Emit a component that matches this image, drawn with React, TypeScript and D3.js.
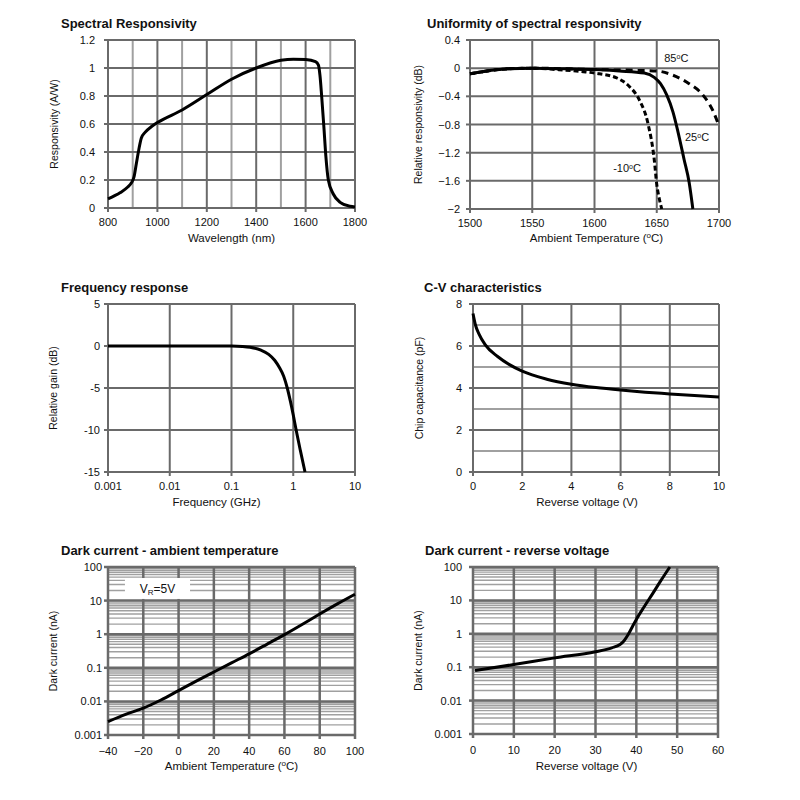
import React from 'react';
import * as d3 from 'd3';

// --- Spectral responsivity ---
const srWavelength = [800, 850, 880, 895, 905, 915, 925, 935, 950, 975, 1000, 1100, 1200, 1300, 1400, 1500, 1550, 1600, 1640, 1652, 1658, 1665, 1674, 1682, 1692, 1712, 1740, 1780, 1800];
const srResp = [0.065, 0.11, 0.15, 0.18, 0.22, 0.32, 0.42, 0.5, 0.54, 0.58, 0.61, 0.7, 0.81, 0.92, 1.0, 1.055, 1.063, 1.06, 1.045, 1.02, 0.95, 0.8, 0.58, 0.37, 0.2, 0.1, 0.04, 0.012, 0.008];
const srXTicks = [800, 1000, 1200, 1400, 1600, 1800];
const srXMinor = [900, 1100, 1300, 1500, 1700];
const srYTicks = [0, 0.2, 0.4, 0.6, 0.8, 1, 1.2];

// --- Uniformity of spectral responsivity ---
const uWl25 = [1500, 1510, 1530, 1550, 1580, 1600, 1620, 1640, 1648, 1653, 1658, 1663, 1667, 1672, 1676, 1679];
const uR25 = [-0.08, -0.05, -0.01, 0, -0.01, -0.02, -0.04, -0.07, -0.13, -0.22, -0.38, -0.62, -0.9, -1.3, -1.62, -2];
const uWlM10 = [1500, 1530, 1550, 1570, 1591, 1604, 1618, 1628, 1636, 1643, 1648, 1650, 1652, 1654];
const uRM10 = [-0.08, -0.01, 0, -0.02, -0.05, -0.08, -0.14, -0.26, -0.45, -0.79, -1.3, -1.65, -1.85, -2];
const uWl85 = [1500, 1530, 1550, 1600, 1631, 1650, 1663, 1676, 1687, 1695, 1700];
const uR85 = [-0.08, -0.01, 0, -0.02, -0.03, -0.04, -0.1, -0.22, -0.38, -0.6, -0.82];
const uXTicks = [1500, 1550, 1600, 1650, 1700];
const uYTicks = [-2, -1.6, -1.2, -0.8, -0.4, 0, 0.4];
const uLabels = [
  { x: 1656, y: 0.09, t: '85' },
  { x: 1672.7, y: -1.03, t: '25' },
  { x: 1615, y: -1.48, t: '-10' },
];

// --- Frequency response ---
const frFreq = [0.001, 0.01, 0.1, 0.15, 0.2, 0.3, 0.4, 0.5, 0.6, 0.7, 0.8, 0.9, 1.0, 1.1, 1.3, 1.55];
const frGain = [0, 0, 0, -0.05, -0.15, -0.5, -1.0, -1.7, -2.6, -3.6, -5.0, -6.6, -8.2, -9.8, -12.4, -15];
const frXTicks = [0.001, 0.01, 0.1, 1, 10];
const frYTicks = [-15, -10, -5, 0, 5];

// --- C-V characteristics ---
const cvVolt = [0, 0.1, 0.25, 0.5, 1, 1.5, 2, 3, 4, 5, 6, 7, 8, 9, 10];
const cvCap = [7.55, 7.0, 6.55, 6.05, 5.5, 5.1, 4.8, 4.42, 4.18, 4.02, 3.9, 3.8, 3.72, 3.64, 3.57];
const cvXTicks = [0, 2, 4, 6, 8, 10];
const cvYTicks = [0, 2, 4, 6, 8];
const cvYMinor = [1, 3, 5, 7];

// --- Dark current vs ambient temperature ---
const dtTemp = [-40, -30, -20, -10, 0, 10, 20, 30, 40, 50, 60, 70, 80, 90, 100];
const dtCurrent = [0.0025, 0.0041, 0.0063, 0.011, 0.021, 0.04, 0.075, 0.14, 0.26, 0.5, 0.97, 1.95, 4.0, 8.0, 15.5];
const dtXTicks = [-40, -20, 0, 20, 40, 60, 80, 100];

// --- Dark current vs reverse voltage ---
const dvVolt = [0.5, 10, 20, 30, 34, 36, 37, 38, 39, 40, 42, 44, 46, 48.2];
const dvCurrent = [0.08, 0.12, 0.19, 0.29, 0.38, 0.48, 0.62, 0.95, 1.6, 2.7, 6.7, 16, 39, 100];
const dvXTicks = [0, 10, 20, 30, 40, 50, 60];

const logYTicks = [0.001, 0.01, 0.1, 1, 10, 100];
const logMinor = d3.range(-3, 2).flatMap(e => d3.range(2, 10).map(m => m * Math.pow(10, e)));

const FONT = '"Liberation Sans", Arial, sans-serif';
const MAJOR = '#6a6a6a';
const MINOR = '#a0a0a0';

type Series = { xs: number[]; ys: number[]; dash?: string };

interface PanelProps {
  title: string;
  titleX: number;
  titleY: number;
  left: number;
  top: number;
  width: number;
  height: number;
  x: any;
  y: any;
  xTicks: number[];
  xMinor?: number[];
  yTicks: number[];
  yMinor?: number[];
  xFmt: (v: number) => string;
  yFmt: (v: number) => string;
  xLabel: React.ReactNode;
  yLabel: string;
  xLabelDx?: number;
  xTickDy: number;
  xTitleDy: number;
  yTickGap: number;
  yTitleDx: number;
  series: Series[];
  majorWidth?: number;
  children?: React.ReactNode;
}

function Panel(p: PanelProps) {
  const { left, top, width, height, x, y } = p;
  const bottom = top + height;
  const right = left + width;
  const line = d3.line<[number, number]>()
    .x(d => x(d[0]))
    .y(d => y(d[1]))
    .curve(d3.curveMonotoneX);
  const mw = p.majorWidth ?? 2;
  return (
    <g fontFamily={FONT}>
      <text x={p.titleX} y={p.titleY} fontSize={13} fontWeight="bold" fill="#111">{p.title}</text>
      <rect x={left} y={top} width={width} height={height} fill="#fff" />
      {/* minor grid */}
      {(p.xMinor || []).map((v, i) => (
        <line key={'xm' + i} x1={x(v)} x2={x(v)} y1={top} y2={bottom} stroke={MINOR} strokeWidth={2} />
      ))}
      {(p.yMinor || []).map((v, i) => (
        <line key={'ym' + i} x1={left} x2={right} y1={y(v)} y2={y(v)} stroke={MINOR} strokeWidth={p.majorWidth ? 1.4 : 2} />
      ))}
      {/* major grid */}
      {p.xTicks.map((v, i) => (
        <line key={'xg' + i} x1={x(v)} x2={x(v)} y1={top} y2={bottom} stroke={MAJOR} strokeWidth={mw} />
      ))}
      {p.yTicks.map((v, i) => (
        <line key={'yg' + i} x1={left} x2={right} y1={y(v)} y2={y(v)} stroke={MAJOR} strokeWidth={mw} />
      ))}
      {/* axis ticks */}
      {p.yTicks.map((v, i) => (
        <line key={'yt' + i} x1={left - 4} x2={left} y1={y(v)} y2={y(v)} stroke={MAJOR} strokeWidth={mw} />
      ))}
      {p.xTicks.map((v, i) => (
        <line key={'xt' + i} x1={x(v)} x2={x(v)} y1={bottom} y2={bottom + 4} stroke={MAJOR} strokeWidth={mw} />
      ))}
      {p.children}
      {/* tick labels */}
      {p.yTicks.map((v, i) => (
        <text key={'yl' + i} x={left - p.yTickGap} y={y(v) + 4} fontSize={11} textAnchor="end" fill="#111">{p.yFmt(v)}</text>
      ))}
      {p.xTicks.map((v, i) => (
        <text key={'xl' + i} x={x(v)} y={bottom + p.xTickDy} fontSize={11} textAnchor="middle" fill="#111">{p.xFmt(v)}</text>
      ))}
      <text x={(left + right) / 2 + (p.xLabelDx || 0)} y={bottom + p.xTitleDy} fontSize={11.5} textAnchor="middle" fill="#111">{p.xLabel}</text>
      <text transform={`translate(${left - p.yTitleDx},${(top + bottom) / 2}) rotate(-90)`} fontSize={10.5} textAnchor="middle" fill="#111">{p.yLabel}</text>
      {/* series */}
      {p.series.map((s, i) => (
        <path key={'s' + i} d={line(s.xs.map((v, j) => [v, s.ys[j]] as [number, number])) || ''} fill="none" stroke="#000" strokeWidth={3} strokeDasharray={s.dash} strokeLinejoin="round" />
      ))}
    </g>
  );
}

const degC = (
  <>
    <tspan>(</tspan>
    <tspan fontSize={8} dy={-4}>o</tspan>
    <tspan dy={4}>C)</tspan>
  </>
);

export default function App() {
  const fmtPlain = (v: number) => String(+v.toFixed(3));
  const fmt2 = (v: number) => (v === 0 ? '0' : d3.format('.1f')(v).replace(/\.0$/, ''));

  // Panel 1
  const x1 = d3.scaleLinear().domain([800, 1800]).range([108, 355]);
  const y1 = d3.scaleLinear().domain([0, 1.2]).range([208, 40]);
  // Panel 2
  const x2 = d3.scaleLinear().domain([1500, 1700]).range([470, 719]);
  const y2 = d3.scaleLinear().domain([-2, 0.4]).range([209, 40]);
  // Panel 3
  const x3 = d3.scaleLog().domain([0.001, 10]).range([108, 355]);
  const y3 = d3.scaleLinear().domain([-15, 5]).range([472, 304]);
  // Panel 4
  const x4 = d3.scaleLinear().domain([0, 10]).range([473, 719]);
  const y4 = d3.scaleLinear().domain([0, 8]).range([472, 304]);
  // Panel 5
  const x5 = d3.scaleLinear().domain([-40, 100]).range([108, 355]);
  const y5 = d3.scaleLog().domain([0.001, 100]).range([735, 567]);
  // Panel 6
  const x6 = d3.scaleLinear().domain([0, 60]).range([473, 718]);
  const y6 = d3.scaleLog().domain([0.001, 100]).range([734, 567]);

  // V_R box in data coordinates
  const boxX0 = -30.4, boxX1 = 6.5, boxY0 = 47, boxY1 = 11.2;

  return (
    <svg width={800} height={800} style={{ position: 'absolute', left: 0, top: 0, background: '#fff' }}>
      <rect width={800} height={800} fill="#fff" />
      <Panel
        title="Spectral Responsivity" titleX={61} titleY={28}
        left={108} top={40} width={247} height={168} x={x1} y={y1}
        xTicks={srXTicks} xMinor={srXMinor} yTicks={srYTicks}
        xFmt={fmtPlain} yFmt={fmt2}
        xLabel="Wavelength  (nm)" yLabel="Responsivity (A/W)"
        xTickDy={18} xTitleDy={34} yTickGap={13} yTitleDx={50}
        series={[{ xs: srWavelength, ys: srResp }]}
      />
      <Panel
        title="Uniformity of spectral  responsivity" titleX={427} titleY={28}
        left={470} top={40} width={249} height={169} x={x2} y={y2}
        xTicks={uXTicks} yTicks={uYTicks}
        xFmt={fmtPlain} yFmt={fmt2}
        xLabel={<><tspan>Ambient Temperature  </tspan>{degC}</>} yLabel="Relative responsivity  (dB)"
        xLabelDx={2}
        xTickDy={18} xTitleDy={33} yTickGap={10} yTitleDx={48}
        series={[
          { xs: uWl85, ys: uR85, dash: '7,5' },
          { xs: uWlM10, ys: uRM10, dash: '5,3' },
          { xs: uWl25, ys: uR25 },
        ]}
      >
        {uLabels.map((l, i) => (
          <text key={i} x={x2(l.x)} y={y2(l.y)} fontSize={11} fill="#111">
            <tspan>{l.t}</tspan>
            <tspan fontSize={7} dy={-3}>o</tspan>
            <tspan dy={3}>C</tspan>
          </text>
        ))}
      </Panel>
      <Panel
        title="Frequency response" titleX={61} titleY={292}
        left={108} top={304} width={247} height={168} x={x3} y={y3}
        xTicks={frXTicks} yTicks={frYTicks}
        xFmt={fmtPlain} yFmt={fmtPlain}
        xLabel="Frequency  (GHz)" yLabel="Relative gain  (dB)"
        xLabelDx={-15}
        xTickDy={18} xTitleDy={34} yTickGap={8} yTitleDx={51}
        series={[{ xs: frFreq, ys: frGain }]}
      />
      <Panel
        title="C-V characteristics" titleX={424} titleY={292}
        left={473} top={304} width={246} height={168} x={x4} y={y4}
        xTicks={cvXTicks} yTicks={cvYTicks} yMinor={cvYMinor}
        xFmt={fmtPlain} yFmt={fmtPlain}
        xLabel="Reverse voltage  (V)" yLabel="Chip capacitance (pF)"
        xLabelDx={-9}
        xTickDy={18} xTitleDy={34} yTickGap={11} yTitleDx={50}
        series={[{ xs: cvVolt, ys: cvCap }]}
      />
      <Panel
        title="Dark current  - ambient temperature" titleX={61} titleY={555}
        left={108} top={567} width={247} height={168} x={x5} y={y5}
        xTicks={dtXTicks} yTicks={logYTicks} yMinor={logMinor}
        xFmt={(v) => (v < 0 ? '\u2212' + Math.abs(v) : String(v))} yFmt={fmtPlain}
        xLabel={<><tspan>Ambient Temperature  </tspan>{degC}</>} yLabel="Dark current  (nA)"
        xTickDy={20} xTitleDy={35} yTickGap={6} yTitleDx={51}
        majorWidth={2.5}
        series={[{ xs: dtTemp, ys: dtCurrent }]}
      >
        <rect x={x5(boxX0)} y={y5(boxY0)} width={x5(boxX1) - x5(boxX0)} height={y5(boxY1) - y5(boxY0)} fill="#fff" />
        <text x={(x5(boxX0) + x5(boxX1)) / 2} y={y5(boxY1) - 6} fontSize={12} textAnchor="middle" fill="#111" fontFamily={FONT}>
          <tspan>V</tspan>
          <tspan fontSize={8} dy={2}>R</tspan>
          <tspan dy={-2}>=5V</tspan>
        </text>
      </Panel>
      <Panel
        title="Dark current  - reverse  voltage" titleX={425} titleY={555}
        left={473} top={567} width={245} height={167} x={x6} y={y6}
        xTicks={dvXTicks} yTicks={logYTicks} yMinor={logMinor}
        xFmt={fmtPlain} yFmt={fmtPlain}
        xLabel="Reverse voltage  (V)" yLabel="Dark current (nA)"
        xLabelDx={-9}
        xTickDy={20} xTitleDy={36} yTickGap={11} yTitleDx={51}
        majorWidth={2.5}
        series={[{ xs: dvVolt, ys: dvCurrent }]}
      />
    </svg>
  );
}
